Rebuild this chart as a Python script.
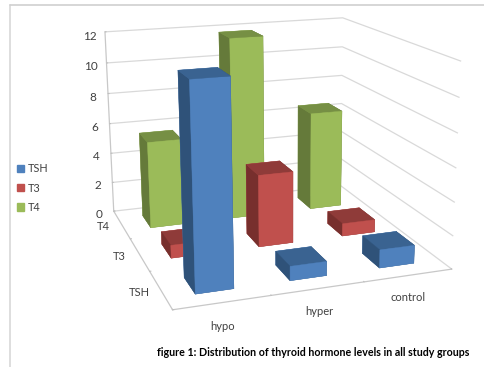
import matplotlib
matplotlib.use("Agg")
import matplotlib.pyplot as plt, seaborn as sns
from matplotlib.patches import Patch

groups = ["hypo", "hyper", "control"]
hormones = ["TSH", "T3", "T4"]
tsh = [11.8, 0.85, 1.1]
t3 = [0.8, 4.5, 0.8]
t4 = [5.6, 11.8, 6.5]
values = {"TSH": tsh, "T3": t3, "T4": t4}
colors = {"TSH": ("#4F81BD", "#3A6391", "#2F5279"),
          "T3": ("#C0504D", "#8F3B39", "#772F2D"),
          "T4": ("#9BBB59", "#768F44", "#657A3A")}
group_label_x = [.35, 1.31, 2.24]

sns.set_style("white")
plt.rcParams['font.family'] = ['Lato', 'DejaVu Sans']
W, H = 485, 367
fig = plt.figure(figsize=(W/100, H/100), dpi=100, facecolor="white")
L = 420.8
ax = fig.add_axes([53.0/W, 6.8/H, L/W, L/H], projection="3d")
ax.set_xlim(0, 3); ax.set_ylim(0, 3); ax.set_zlim(0, 12)
ax.view_init(15.647, -108.771, 0.339)
ax.set_proj_type('persp', focal_length=0.455)
ax.set_box_aspect((1.356, 1.366, 1))

ax.computed_zorder = False
ax.patch.set_alpha(0)
for a in (ax.xaxis, ax.yaxis, ax.zaxis):
    a.set_pane_color((1, 1, 1, 0))
    a.pane.set_edgecolor((1, 1, 1, 0))
    a.line.set_color("#C8C8C8")
    a.line.set_linewidth(.9)
    a._axinfo['tick'].update(inward_factor=0, outward_factor=.06)
    a.label.set_visible(False)
    a.offsetText.set_visible(False)
ax.grid(True)
ax.xaxis.gridlines.set_visible(False)
ax.yaxis.gridlines.set_visible(False)
ax.zaxis._axinfo['grid'].update(color="#D9D9D9", linewidth=.9)
ax.set_xticks([0, 1, 2, 3]); ax.set_yticks([0, 1, 2, 3]); ax.set_zticks(range(0, 13, 2))
ax.set_xticklabels([]); ax.set_yticklabels([])
for a in (ax.xaxis, ax.yaxis):
    for t in a.get_major_ticks():
        t.label1.set_visible(False)
ax.tick_params(axis='both', color="#BFBFBF")
ax.tick_params(axis='z', labelsize=8.5, labelcolor="#404040", color="#BFBFBF", pad=0)

order = 1
for j in (2, 1, 0):
    h = hormones[j]
    front, top, side = colors[h]
    face = [top, top, front, front, side, side]
    for i in (2, 1, 0):
        ax.bar3d(i+.3, j+.28, 0, .4, .44, values[h][i], color=face, edgecolors=face,
                 shade=False, zorder=order, linewidth=.3)
        order += 1
for x, g in zip(group_label_x, groups):
    ax.text(x, -.5, 0, g, ha='center', va='center', fontsize=8, color="#404040")
for j, h in enumerate(hormones):
    ax.text(-.22, j+.5, 0, h, ha='center', va='center', fontsize=8, color="#404040")
fig.legend(handles=[Patch(color=colors[h][0], label=h) for h in hormones], loc='center left',
           bbox_to_anchor=(17/W, 1-188/H), frameon=False, fontsize=7.8, handlelength=.65,
           handleheight=.65, labelspacing=.77, handletextpad=.35, labelcolor="#404040", borderpad=0, borderaxespad=0)
fig.text(157/W, 1-352/H, "figure 1: Distribution of thyroid hormone levels in all study groups",
         fontsize=7.65, fontweight='bold', va='center', color="#000000")
fig.add_artist(plt.Line2D([10/W, 10/W], [0, 1-5/H], color="#D8D8D8", lw=1.2))
fig.add_artist(plt.Line2D([10/W, 1], [1-5/H, 1-5/H], color="#D0D0D0", lw=1.2))
fig.savefig("out.png", dpi=100)
